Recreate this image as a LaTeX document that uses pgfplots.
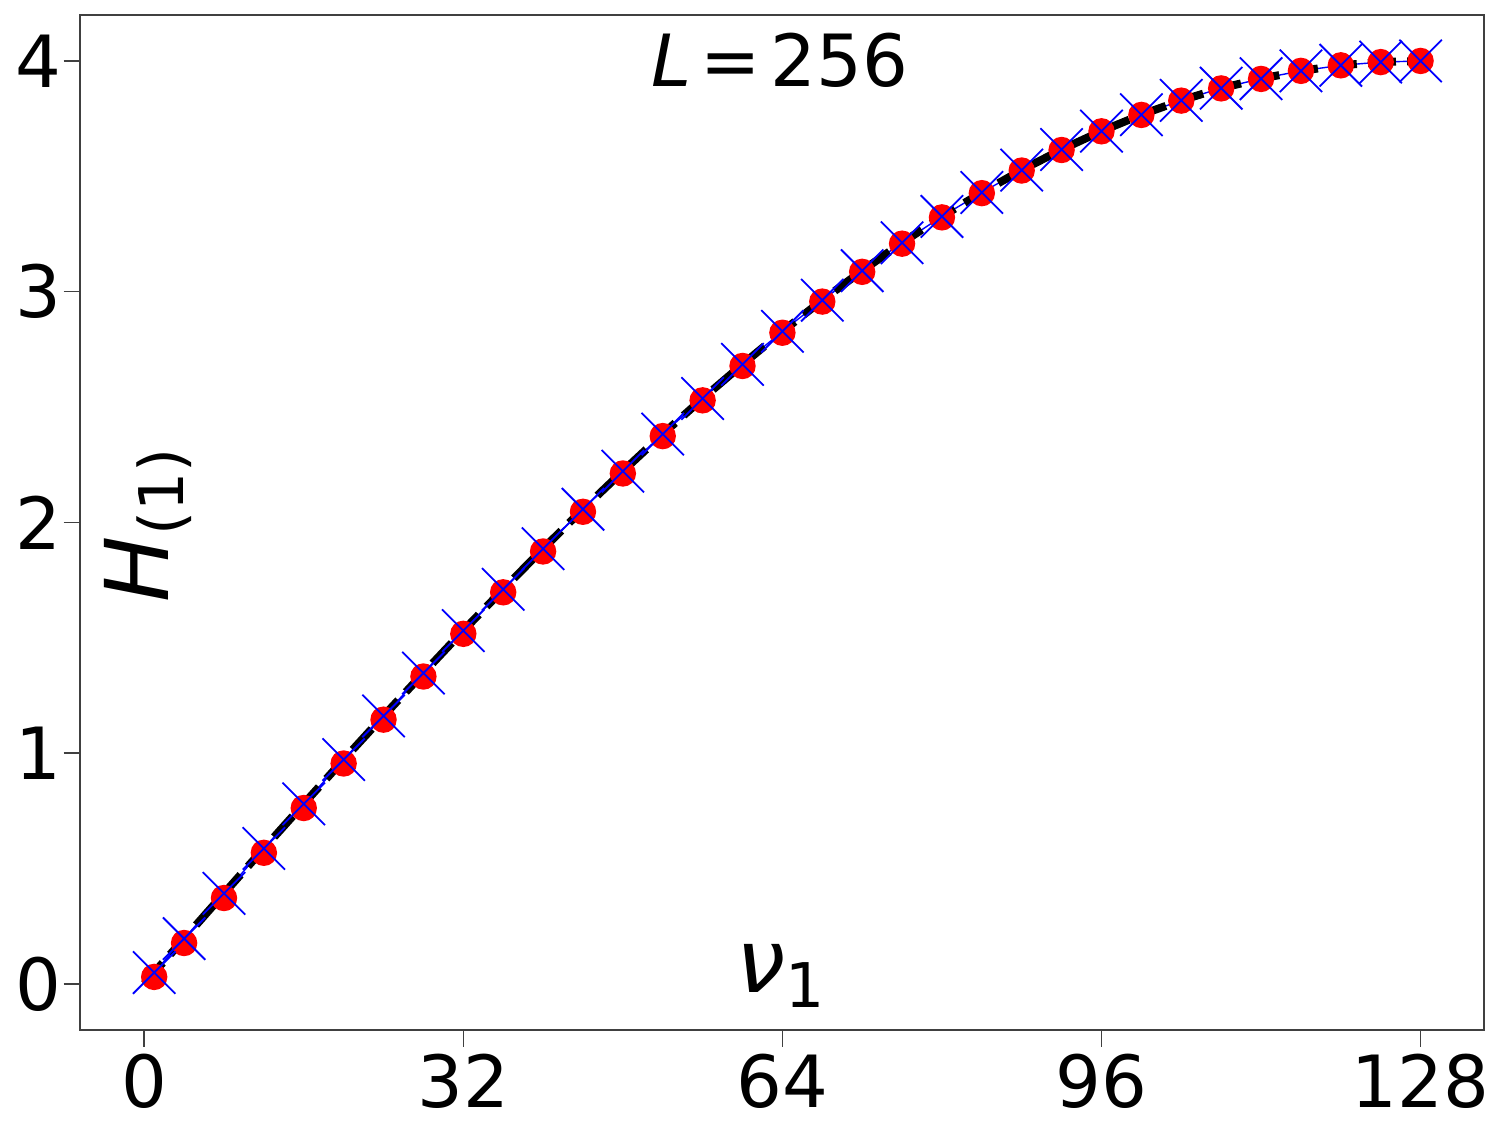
\documentclass[border=0pt]{standalone}
\usepackage{fontspec}
\setmainfont{DejaVu Sans}
\usepackage{pgfplots}
\pgfplotsset{compat=1.18}
\usetikzlibrary{calc}

% values
\pgfplotstableread{
x y
1 0.030
4 0.177
8 0.372
12 0.568
16 0.762
20 0.955
24 1.145
28 1.332
32 1.517
36 1.697
40 1.874
44 2.046
48 2.212
52 2.374
56 2.529
60 2.678
64 2.822
68 2.957
72 3.086
76 3.208
80 3.322
84 3.427
88 3.525
92 3.614
96 3.695
100 3.766
104 3.828
108 3.881
112 3.922
116 3.957
120 3.981
124 3.995
128 4.000
}\reddata
\pgfplotstableread{
x y
1 0.049
4 0.196
8 0.392
12 0.587
16 0.780
20 0.972
24 1.161
28 1.347
32 1.531
36 1.710
40 1.886
44 2.057
48 2.222
52 2.383
56 2.537
60 2.685
64 2.828
68 2.963
72 3.091
76 3.212
80 3.326
84 3.430
88 3.527
92 3.616
96 3.696
100 3.767
104 3.829
108 3.882
112 3.923
116 3.957
120 3.981
124 3.995
128 4.000
}\bluedata
\pgfplotstableread{
x y
0 0.000
1 0.049
4 0.196
8 0.392
12 0.587
16 0.780
20 0.972
24 1.161
28 1.347
32 1.531
36 1.710
40 1.886
44 2.057
48 2.222
52 2.383
56 2.537
60 2.685
64 2.828
68 2.963
72 3.091
76 3.212
80 3.326
84 3.430
88 3.527
92 3.616
96 3.696
100 3.767
104 3.829
108 3.882
112 3.923
116 3.957
120 3.981
124 3.995
128 4.000
}\curvedata

\newcommand{\lab}{\fontsize{22}{22}\selectfont}
\newcommand{\sub}[1]{\raisebox{-3.75pt}{\fontsize{15.4}{15.4}\selectfont #1}}

\begin{document}
\begin{tikzpicture}
  \begin{axis}[
    name=ax,
    at={(0,0)}, anchor=south west,
    scale only axis,
    width=351pt, height=253.8pt,
    xmin=-6.4, xmax=134.4, ymin=-0.2, ymax=4.2,
    xtick={0,32,64,96,128},
    ytick={0,1,2,3,4},
    xtick pos=bottom, ytick pos=left,
    tick align=outside,
    major tick length=4.2pt,
    every tick/.style={black!75, line width=0.4pt},
    axis line style={black!75, line width=0.5pt},
    ticklabel style={font=\fontsize{18}{18}\selectfont},
    xticklabel style={yshift=1.8pt},
    yticklabel style={xshift=3pt},
    /pgf/number format/assume math mode=true,
    clip=false,
  ]
    \addplot[red, only marks, mark=*, mark size=3.1pt] table {\reddata};
    \addplot[blue, line width=0.35pt, mark=x, mark size=7.5pt,
      mark options={line width=0.45pt}] table {\bluedata};
    \addplot[black, line width=2pt, dash pattern=on 7pt off 2.8pt]
      table {\curvedata};

    \node[anchor=base] at (rel axis cs:0.498,0.929)
      {\fontsize{18}{18}\selectfont\textit{L}\kern2.4pt=\kern2.4pt256};
    \node[anchor=base, inner sep=0pt] at (rel axis cs:0.499,0.0374)
      {\lab\textit{ν}\sub{1}};
    \node[anchor=base, rotate=90, inner sep=0pt] at (rel axis cs:0.0625,0.497)
      {\lab\textit{H}\sub{(1)}};
  \end{axis}
  \pgfresetboundingbox
  \path ($(ax.south west)+(-20.1pt,-26pt)$) rectangle ($(ax.north east)+(6.9pt,3.7pt)$);
\end{tikzpicture}
\end{document}
